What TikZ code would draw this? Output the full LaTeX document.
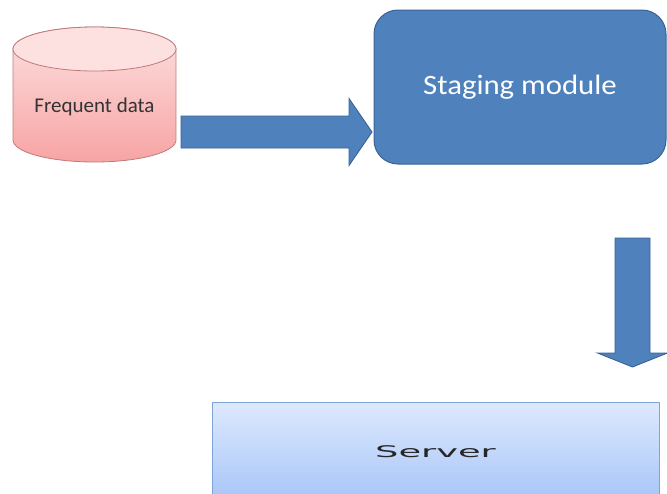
\documentclass[tikz,border=0pt]{standalone}
\usepackage{fontspec}
\setmainfont{Carlito}
\newfontfamily\serverfont{DejaVu Sans}

\definecolor{stageblue}{HTML}{4F81BD}
\definecolor{stageedge}{HTML}{3A6296}
\definecolor{pinktop}{HTML}{FDE0E0}
\definecolor{pinkbot}{HTML}{F7A4A4}
\definecolor{pinkedge}{HTML}{C07A7A}
\definecolor{servtop}{HTML}{DDE9FD}
\definecolor{servbot}{HTML}{A7C5F8}
\definecolor{servedge}{HTML}{7FA4D8}

\tikzset{
  blockarrow/.style={fill=stageblue, draw=stageedge, line width=0.9pt, line join=miter},
  stagebox/.style={fill=stageblue, draw=stageedge, line width=1pt, rounded corners=24pt,
    minimum width=292pt, minimum height=154pt, text=white, font=\fontsize{28}{32}\selectfont},
  serverbox/.style={top color=servtop, bottom color=servbot, draw=servedge, line width=1pt,
    minimum width=447pt, minimum height=100pt, text=black!85, font=\serverfont\fontsize{16}{18}\selectfont}
}

\begin{document}
\begin{tikzpicture}[x=1pt,y=-1pt]
    \useasboundingbox (0,0) rectangle (667,493);

    % Draw the data cylinder
    \def\cylx{94.5}
    \def\cyltop{49}
    \def\cylbot{140}
    \def\rx{81.5}
    \def\ry{22}
    \shade[top color=pinktop, bottom color=pinkbot, draw=pinkedge, line width=0.8pt]
        (\cylx-\rx,\cyltop) -- (\cylx-\rx,\cylbot)
        arc[start angle=180, end angle=0, x radius=\rx, y radius=\ry]
        -- (\cylx+\rx,\cyltop)
        arc[start angle=0, end angle=-180, x radius=\rx, y radius=\ry] -- cycle;
    \draw[fill=pinktop, draw=pinkedge, line width=0.8pt] (\cylx,\cyltop) ellipse[x radius=\rx, y radius=\ry];
    \node[anchor=base, text=black!80, font=\fontsize{21}{24}\selectfont] (data) at (\cylx,112.5) {Frequent data};

    % Boxes
    \node[stagebox] (staging) at (520,87) {\scalebox{1.1}[1]{Staging module}};
    \node[serverbox] (server) at (435.5,452) {\scalebox{2.3}[1]{Server}};

    % Arrow ends
    \coordinate (h0) at (181,132);
    \coordinate (h1) at (372,132);
    \coordinate (v0) at (632.5,238);
    \coordinate (v1) at (632.5,367);

    % Arrow into the staging module
    \draw[blockarrow] (h0) ++(0,-16) -- ++(168,0) -- ++(0,-17.5) -- (h1)
        -- ++(-23,33.5) -- ++(0,-17.5) -- ++(-168,0) -- cycle;

    % Arrow down to the server
    \draw[blockarrow] (v0) ++(-17.5,0) -- ++(0,115) -- ++(-17.5,0) -- (v1)
        -- ++(35,-14) -- ++(-17.5,0) -- ++(0,-115) -- cycle;
\end{tikzpicture}
\end{document}
